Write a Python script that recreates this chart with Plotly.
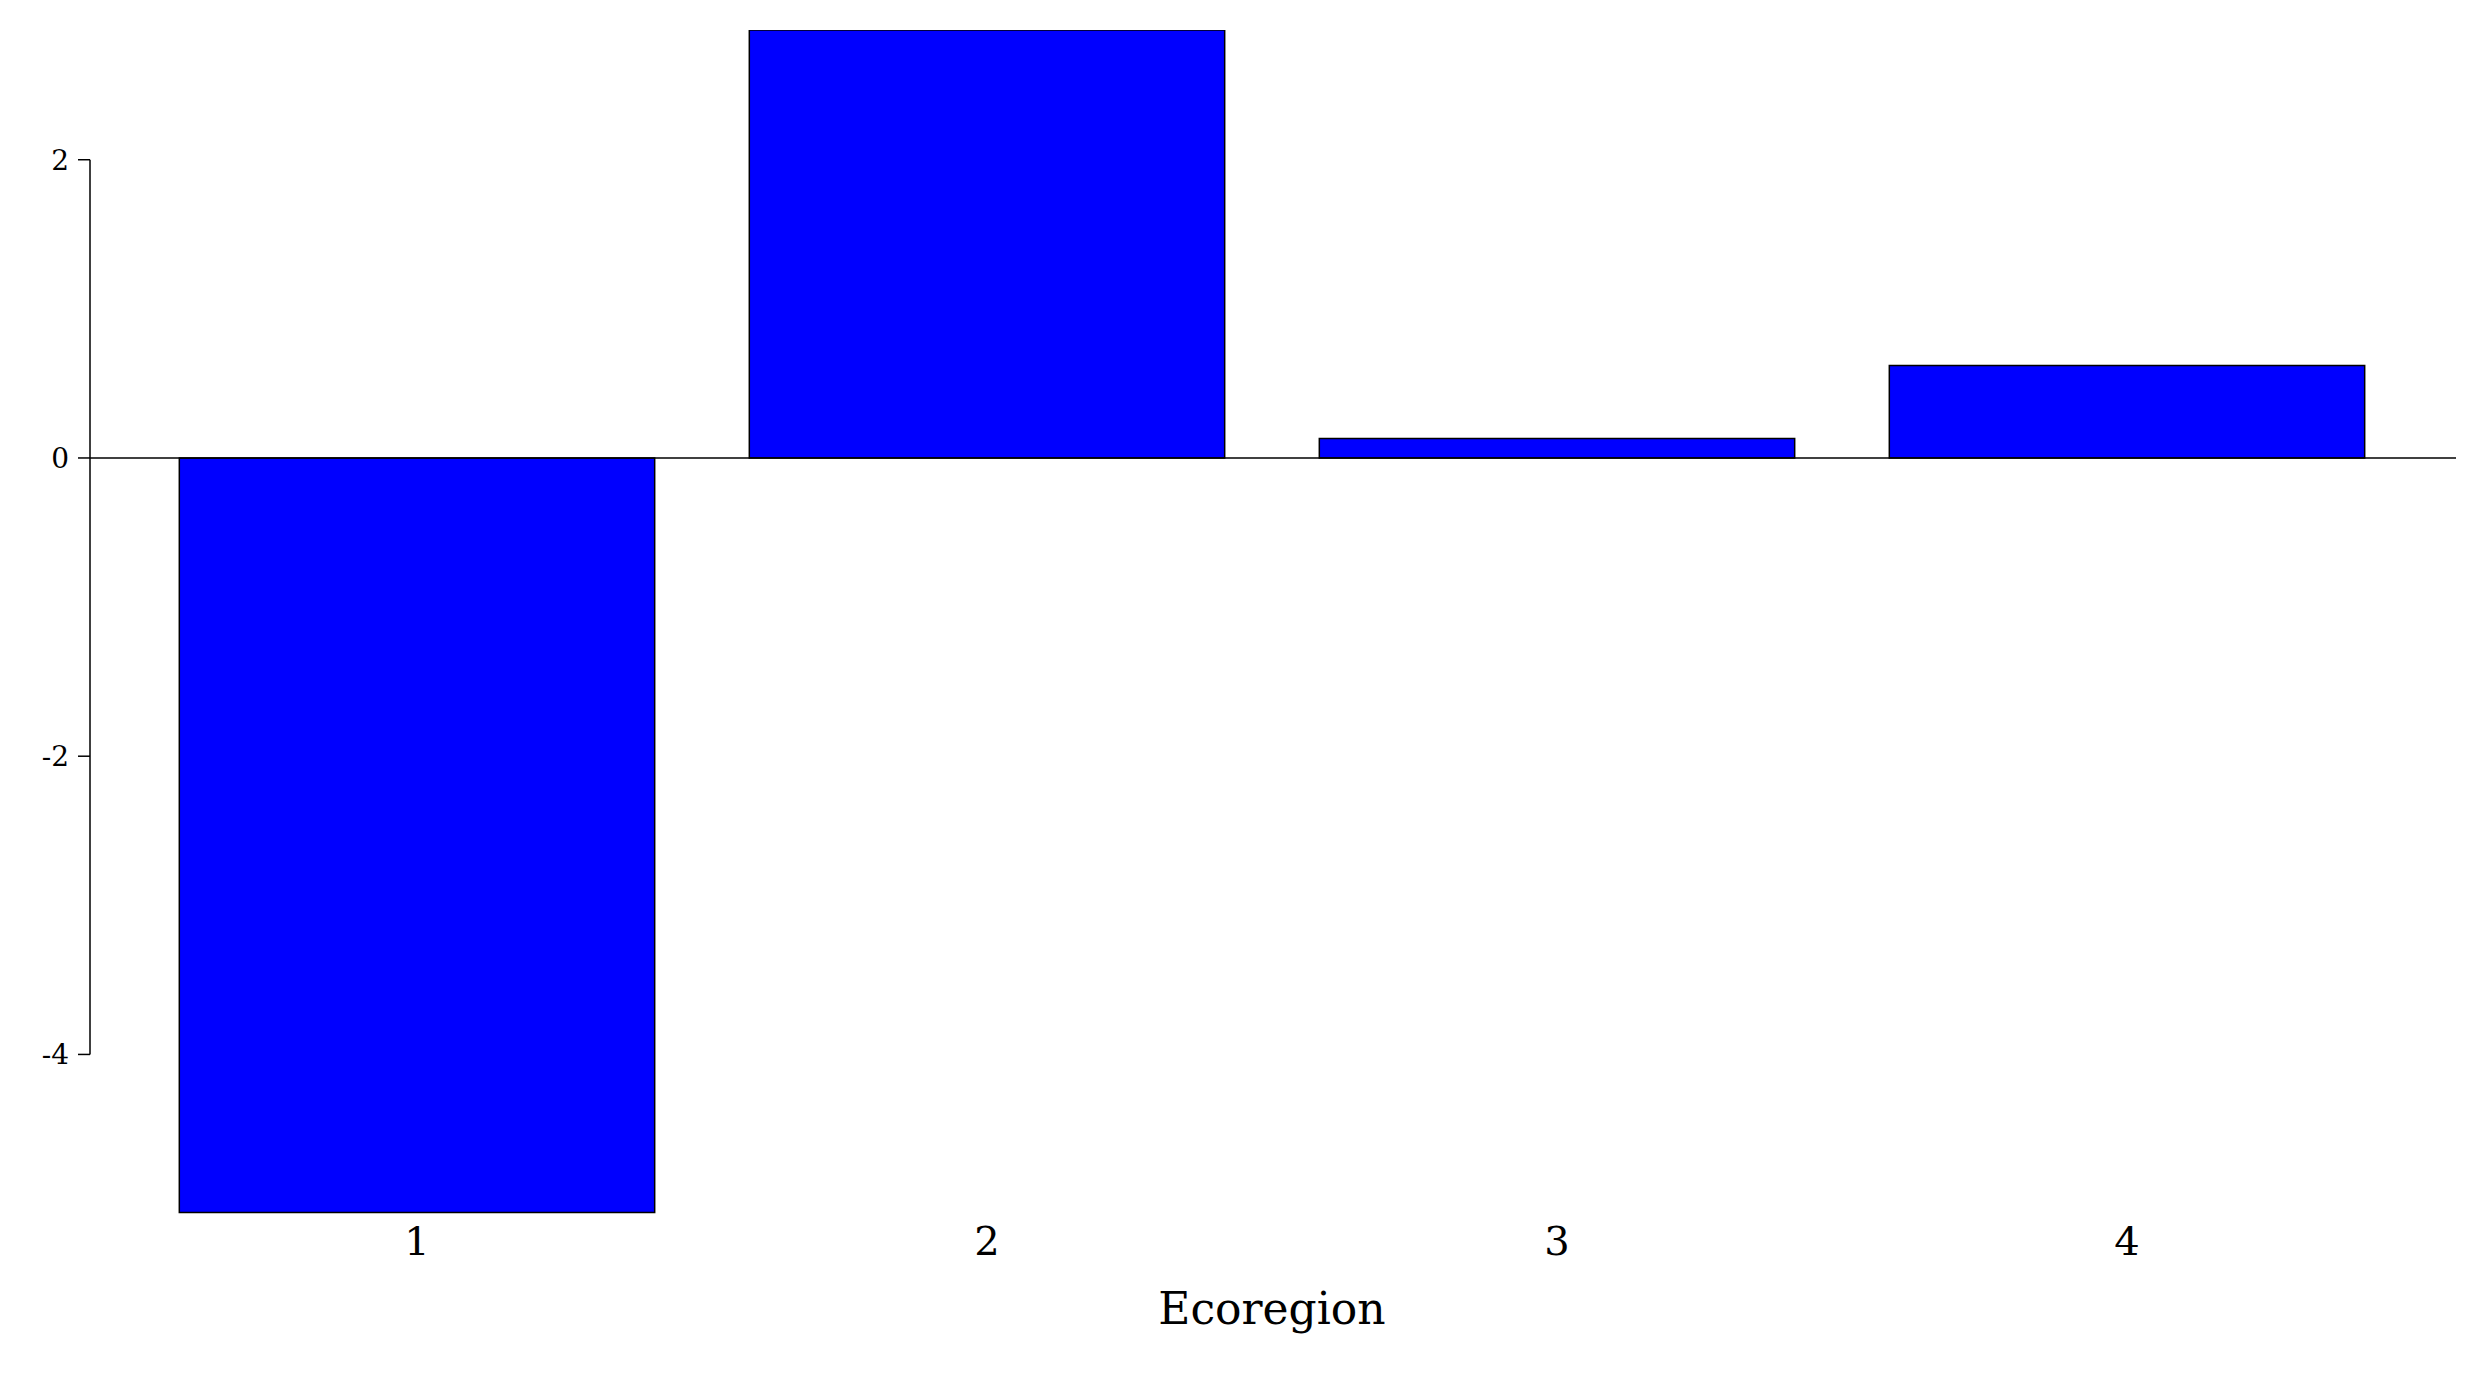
import plotly.graph_objects as go

categories = ["1", "2", "3", "4"]
values = [-5.06, 2.87, 0.13, 0.62]
ytick_vals = [-4, -2, 0, 2]
ytick_text = ["-4", "-2", "0", "2"]

font = "DejaVu Serif"
W = 2476
L, R = 124, 72
pw = W - L - R
ax_x = (82 - L) / pw
end_x = (2448 - L) / pw

fig = go.Figure(go.Bar(x=categories, y=values, marker=dict(color="#0000ff", line=dict(color="black", width=1.5))))
fig.update_layout(
    width=W, height=1374, plot_bgcolor="white", paper_bgcolor="white",
    margin=dict(l=L, r=R, t=22, b=168), bargap=0.166, showlegend=False,
    font=dict(family=font, color="black"),
    xaxis=dict(title=dict(text="Ecoregion", font=dict(size=44), standoff=30),
               tickfont=dict(size=40), showline=False, ticks="", showgrid=False),
    yaxis=dict(range=[-5.07, 2.87], tickvals=ytick_vals, ticktext=ytick_text, ticks="",
               ticklabelstandoff=62, tickfont=dict(size=28), showgrid=False, showline=False,
               zeroline=False),
)
fig.add_shape(type="line", xref="paper", yref="y", x0=ax_x, x1=ax_x, y0=min(ytick_vals), y1=max(ytick_vals),
              line=dict(color="black", width=1.5))
fig.add_shape(type="line", xref="paper", yref="y", x0=ax_x, x1=end_x, y0=0, y1=0,
              line=dict(color="black", width=1.5))
for v in ytick_vals:
    fig.add_shape(type="line", xref="paper", yref="y", x0=ax_x - 12 / pw, x1=ax_x, y0=v, y1=v,
                  line=dict(color="black", width=1.5))
fig.write_html("out.html")
